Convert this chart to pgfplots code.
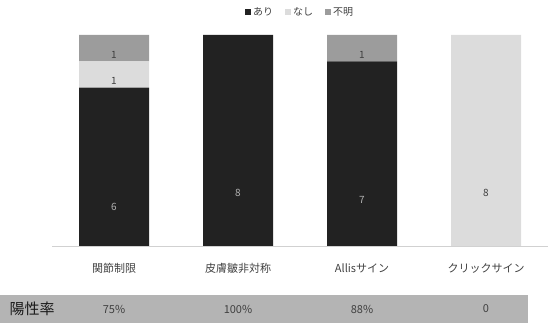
\documentclass[border=0pt]{standalone}
\usepackage{pgfplots}
\pgfplotsset{compat=1.18}
\usepackage{fontspec}
\setmainfont{Noto Sans CJK JP}
\definecolor{cAri}{HTML}{222222}
\definecolor{cNashi}{HTML}{DCDCDC}
\definecolor{cFumei}{HTML}{9C9C9C}
\definecolor{txt}{HTML}{404040}
\definecolor{band}{HTML}{B4B4B4}
\pgfplotsset{sqlegend/.style={legend image code/.code={\fill[##1] (0pt,-3pt) rectangle (6pt,3pt);}}}
\begin{document}
\begin{tikzpicture}[x=1pt,y=1pt]
\path[use as bounding box] (0,0) rectangle (556,323);
\fill[band] (0,0) rectangle (528,28);
\begin{axis}[at={(52pt,77pt)}, anchor=south west, scale only axis,
  width=496pt, height=211pt,
  ybar stacked, bar width=70pt,
  xmin=-0.5, xmax=3.5, ymin=0, ymax=8,
  axis x line*=bottom, axis y line=none,
  x axis line style={draw=black!18, line width=0.8pt},
  xtick={0,1,2,3},
  xticklabels={関節制限,皮膚皺非対称,Allisサイン,クリックサイン},
  major tick length=0pt,
  xticklabel style={anchor=center, yshift=-22pt, font=\fontsize{11}{13}\selectfont, text=txt},
  clip=false,
  point meta=explicit symbolic,
  nodes near coords,
  visualization depends on=rawy \as \rawy,
  every node near coord/.append style={anchor=center, yshift=-6.594pt*\rawy, font=\fontsize{10}{11}\selectfont},
  sqlegend,
  legend columns=3,
  legend style={draw=none, fill=none, at={(0.5,1.109)}, anchor=center,
    font=\fontsize{10}{12}\selectfont, text=txt,
    /tikz/every even column/.append style={column sep=10pt}},
]
\addplot[fill=cAri, draw=none, every node near coord/.append style={text=black!30}]
  coordinates {(0,6)[6] (1,8)[8] (2,7)[7] (3,0)[]};
\addplot[fill=cNashi, draw=none, every node near coord/.append style={text=txt}]
  coordinates {(0,1)[1] (1,0)[] (2,0)[] (3,8)[8]};
\addplot[fill=cFumei, draw=none, every node near coord/.append style={text=txt}]
  coordinates {(0,1)[1] (1,0)[] (2,1)[1] (3,0)[]};
\legend{あり,なし,不明}
\node[text=black!90, font=\fontsize{15}{17}\selectfont] at (axis cs:-0.661,-2.389) {陽性率};
\node[text=txt, font=\fontsize{11}{13}\selectfont] at (axis cs:0,-2.389) {75\%};
\node[text=txt, font=\fontsize{11}{13}\selectfont] at (axis cs:1,-2.389) {100\%};
\node[text=txt, font=\fontsize{11}{13}\selectfont] at (axis cs:2,-2.389) {88\%};
\node[text=txt, font=\fontsize{11}{13}\selectfont] at (axis cs:3,-2.389) {0};
\end{axis}
\end{tikzpicture}
\end{document}
